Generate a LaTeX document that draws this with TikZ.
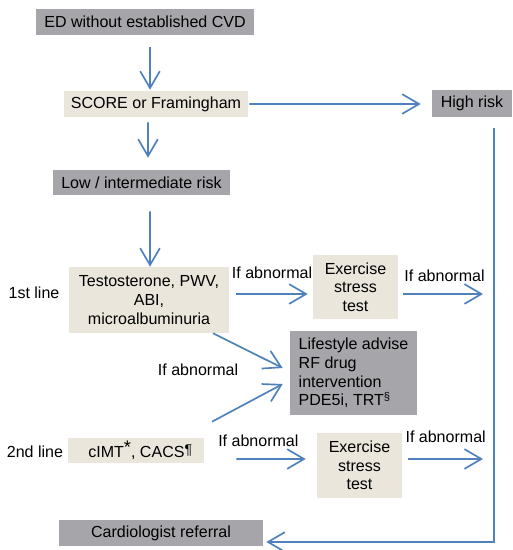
\documentclass[tikz,border=0pt]{standalone}
\usepackage{fontspec}
\setmainfont{Liberation Sans}
\definecolor{BoxDark}  {RGB}{166,166,170}
\definecolor{BoxLight} {RGB}{234,230,220}
\definecolor{FlowBlue} {RGB}{79,129,189}
\usetikzlibrary{arrows.meta,calc}

\begin{document}
\begin{tikzpicture}[x=0.025cm,y=-0.025cm,
  every node/.style={font=\fontsize{11.4}{13.3}\selectfont},
  darkbox/.style={fill=BoxDark,inner sep=0pt,align=center},
  lightbox/.style={fill=BoxLight,inner sep=0pt,align=center},
  flow/.style={FlowBlue,line width=1.2pt,
    -{Straight Barb[length=12pt,width=14pt]}},
  lbl/.style={inner sep=0pt,text=black}]
  \useasboundingbox (0,0) rectangle (512,550);
  % boxes
  \node[darkbox,minimum width=5.45cm,minimum height=0.65cm] (ED) at (145,22)
    {ED without established CVD};
  \node[lightbox,minimum width=4.6cm,minimum height=0.65cm] (SC) at (156,104)
    {SCORE or Framingham};
  \node[darkbox,minimum width=2cm,minimum height=0.675cm] (HR) at (472,103.5)
    {High risk};
  \node[darkbox,minimum width=4.425cm,minimum height=0.625cm] (LR) at (141.5,182.5)
    {Low / intermediate risk};
  \node[lightbox,minimum width=4cm,minimum height=1.65cm] (T1) at (149,300)
    {Testosterone, PWV,\\ABI,\\microalbuminuria};
  \node[lightbox,minimum width=2.125cm,minimum height=1.6cm] (EX1) at (355.5,287)
    {Exercise\\stress\\test};
  \node[darkbox,align=left,minimum width=3.175cm,minimum height=2.1cm] (LS) at (353.5,373)
    {Lifestyle advise\\RF drug\\intervention\\PDE5i, TRT\textsuperscript{§}};
  \node[lightbox,minimum width=3.4cm,minimum height=0.625cm] (T2) at (136,450.5)
    {\hspace{6pt}cIMT\raisebox{3pt}{\fontsize{13}{13}\selectfont *}, CACS\raisebox{2.5pt}{\fontsize{10}{10}\selectfont ¶}};
  \node[lightbox,minimum width=2.125cm,minimum height=1.625cm] (EX2) at (359.5,465.5)
    {Exercise\\stress\\test};
  \node[darkbox,minimum width=5.1cm,minimum height=0.65cm] (CR) at (161,533)
    {Cardiologist referral};
  \node[lbl] (L1) at (34,293) {1st line};
  \node[lbl] (L2) at (35,452) {2nd line};
  \node[lbl] (A3) at (198,370) {If abnormal};
  \coordinate (R1) at (483,294);
  \coordinate (R2) at (483,459);
  % connectors
  \draw[flow] ($(ED.south)+(5,12)$) -- ($(SC.north)+(-6,-1)$);
  \draw[flow] ($(SC.east)+(1,0)$) -- ($(HR.west)+(-11,0.5)$);
  \draw[flow] ($(SC.south)+(-8,5)$) -- ($(LR.north)+(6.5,-12)$);
  \draw[flow] ($(LR.south)+(8.5,16)$) -- ($(T1.north)+(1,0)$);
  \draw[flow] ($(T1.east)+(7,-6)$) -- ($(EX1.west)+(-5,7)$)
    node[midway,above=10pt,lbl] {If abnormal};
  \draw[flow] ($(EX1.east)+(5,7)$) -- (R1)
    node[midway,above=8pt,lbl,xshift=1pt] {If abnormal};
  \draw[flow] ($(T1.south)+(64,0)$) -- ($(LS.west)+(-7,-5)$);
  \draw[flow] ($(T2.north)+(76,-16)$) -- ($(LS.west)+(-7,11)$);
  \draw[flow] ($(T2.east)+(32,8.5)$) -- ($(EX2.west)+(-11,-6.5)$)
    node[midway,above=8.5pt,lbl,xshift=-9pt] {If abnormal};
  \draw[flow] ($(EX2.east)+(6,-6.5)$) -- (R2)
    node[midway,above=11pt,lbl] {If abnormal};
  \draw[flow] ($(HR.south)+(22,11)$) |- ($(CR.east)+(3,9)$);
\end{tikzpicture}
\end{document}
